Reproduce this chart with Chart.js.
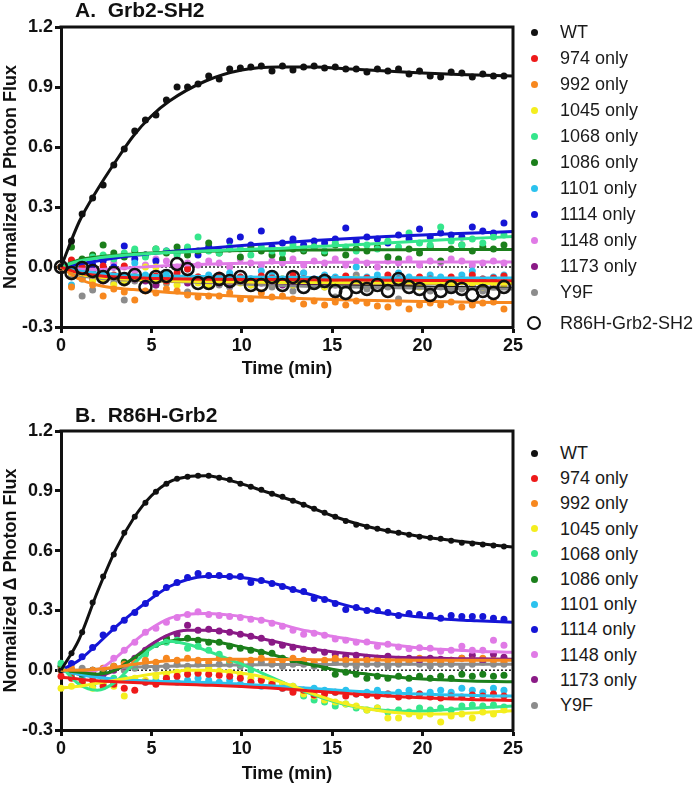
<!DOCTYPE html>
<html>
<head>
<meta charset="utf-8">
<script src="https://cdn.jsdelivr.net/npm/chart.js@4.4.0/dist/chart.umd.min.js"></script>
<style>
  body { margin: 0; background: #fff; font-family: "Liberation Sans", Arial, Helvetica, sans-serif; }
  #page { position: relative; width: 693px; height: 785px; overflow: hidden; }
  canvas { position: absolute; left: 0; }
  .ptitle { position: absolute; left: 75px; font-size: 21px; font-weight: bold; line-height: 20px; white-space: pre; color: #111; }
  .item { position: absolute; left: 560px; font-size: 18px; line-height: 20px; white-space: nowrap; color: #1a1a1a; }
  .dot { position: absolute; border-radius: 50%; box-sizing: border-box; }
</style>
</head>
<body>
<div id="page">
  <canvas id="chartA" width="530" height="380" style="top:0px"></canvas>
  <canvas id="chartB" width="530" height="385" style="top:400px"></canvas>
  <div class="ptitle" style="top:0px">A.  Grb2-SH2</div>
  <div class="ptitle" style="top:405px">B.  R86H-Grb2</div>
  <div id="legendA"></div>
  <div id="legendB"></div>
</div>
<script>
// sampling times (min), one reading about every 35 s
var times = [0, 0.58, 1.17, 1.75, 2.33, 2.92, 3.5, 4.08, 4.67, 5.25,
  5.83, 6.42, 7, 7.58, 8.17, 8.75, 9.33, 9.92, 10.5, 11.08,
  11.67, 12.25, 12.83, 13.42, 14, 14.58, 15.17, 15.75, 16.33, 16.92,
  17.5, 18.08, 18.67, 19.25, 19.83, 20.42, 21, 21.58, 22.17, 22.75,
  23.33, 23.92, 24.5];

var series = ['WT', '974 only', '992 only', '1045 only', '1068 only', '1086 only',
  '1101 only', '1114 only', '1148 only', '1173 only', 'Y9F'];
var colors = ['#111111', '#ee1a1a', '#f7881f', '#f4ee1e', '#35e68c', '#1b7f1b',
  '#2bc2ee', '#1515d6', '#e07ae6', '#8a1a86', '#8c8c8c'];

// ---- panel A: Grb2-SH2 ----
var aWT = [0, 0.13, 0.265, 0.345, 0.41, 0.51, 0.59, 0.68, 0.735, 0.76,
  0.835, 0.90, 0.90, 0.915, 0.955, 0.94, 0.99, 0.995, 1.0, 1.005,
  0.98, 1.005, 0.985, 1.0, 1.005, 0.995, 1.0, 0.99, 0.99, 0.975,
  0.99, 0.98, 0.99, 0.965, 0.98, 0.955, 0.95, 0.975, 0.97, 0.95,
  0.965, 0.955, 0.955];
var a974 = [0, 0.035, 0.0, -0.02, 0.005, -0.04, 0.005, -0.05, -0.06, -0.045,
  -0.07, -0.03, -0.01, -0.05, -0.06, -0.04, -0.07, -0.05, -0.065, -0.045,
  -0.055, -0.07, -0.04, -0.06, -0.075, -0.05, -0.06, -0.045, -0.07, -0.055,
  -0.065, -0.04, -0.06, -0.075, -0.05, -0.06, -0.07, -0.05, -0.065, -0.04,
  -0.06, -0.055, -0.045];
var a992 = [0, -0.10, -0.06, -0.09, -0.145, -0.11, -0.125, -0.165, -0.12, -0.13,
  -0.11, -0.12, -0.14, -0.15, -0.145, -0.145, -0.13, -0.16, -0.16, -0.13,
  -0.15, -0.145, -0.16, -0.185, -0.17, -0.19, -0.175, -0.19, -0.17, -0.18,
  -0.195, -0.2, -0.18, -0.21, -0.19, -0.18, -0.19, -0.175, -0.2, -0.19,
  -0.18, -0.175, -0.21];
var a1045 = [0, -0.03, -0.05, -0.07, -0.06, -0.09, -0.08, -0.05, 0.0, 0.0,
  -0.07, -0.09, -0.06, -0.08, -0.09, -0.07, -0.06, -0.08, -0.09, -0.07,
  -0.08, -0.06, -0.09, -0.07, -0.08, -0.1, -0.07, -0.08, -0.06, -0.09,
  -0.08, -0.07, -0.09, -0.08, -0.1, -0.07, -0.08, -0.09, -0.07, -0.08,
  -0.1, -0.08, -0.09];
var a1068 = [0, 0.03, 0.0, 0.05, 0.06, 0.04, 0.07, 0.09, 0.05, 0.09,
  0.08, 0.06, 0.1, 0.15, 0.08, 0.07, 0.1, 0.09, 0.06, 0.1,
  0.08, 0.07, 0.11, 0.09, 0.1, 0.08, 0.12, 0.1, 0.08, 0.11,
  0.09, 0.13, 0.1, 0.17, 0.12, 0.11, 0.2, 0.13, 0.11, 0.14,
  0.12, 0.15, 0.16];
var a1086 = [0, 0.1, 0.04, 0.06, 0.11, 0.07, 0.05, 0.08, 0.06, 0.09,
  0.07, 0.1, 0.06, 0.08, 0.12, 0.07, 0.09, 0.05, 0.1, 0.08,
  0.06, 0.04, 0.09, 0.08, 0.1, 0.07, 0.11, 0.06, 0.09, 0.08,
  0.1, 0.05, 0.04, 0.09, 0.07, 0.1, 0.03, 0.09, 0.11, 0.08,
  0.1, 0.09, 0.11];
var a1101 = [0, -0.09, -0.06, 0.04, -0.02, -0.05, -0.07, 0.02, -0.04, -0.06,
  -0.03, -0.05, -0.01, -0.06, -0.04, -0.07, -0.03, -0.05, -0.06, -0.02,
  -0.04, -0.06, -0.05, -0.03, -0.06, -0.04, -0.05, -0.07, 0.0, -0.05,
  -0.04, -0.06, -0.03, -0.05, -0.06, -0.04, -0.05, -0.07, -0.04, -0.02,
  -0.06, -0.05, -0.04];
var a1114 = [0, 0.02, -0.03, 0.01, 0.03, 0.0, 0.105, 0.04, 0.06, 0.03,
  0.08, 0.07, 0.09, 0.06, 0.1, 0.08, 0.13, 0.15, 0.11, 0.18,
  0.1, 0.12, 0.14, 0.11, 0.13, 0.12, 0.14, 0.195, 0.13, 0.15,
  0.14, 0.12, 0.16, 0.14, 0.19, 0.15, 0.17, 0.16, 0.15, 0.2,
  0.18, 0.17, 0.22];
var a1148 = [0, -0.02, -0.01, 0.01, -0.03, 0.02, 0.0, -0.02, 0.01, 0.04,
  0.03, 0.0, 0.02, 0.01, 0.03, 0.02, 0.0, 0.04, 0.02, 0.01,
  0.03, 0.02, 0.04, 0.01, 0.03, 0.02, 0.04, 0.01, 0.03, 0.02,
  0.0, 0.03, 0.02, 0.04, 0.01, 0.03, 0.02, 0.04, 0.03, 0.01,
  0.02, 0.03, 0.02];
var a1173 = [0, -0.03, -0.05, -0.06, -0.07, -0.05, -0.08, -0.06, -0.07, -0.09,
  -0.06, -0.07, -0.08, -0.06, -0.07, -0.08, -0.09, -0.07, -0.06, -0.08,
  -0.07, -0.09, -0.08, -0.07, -0.06, -0.08, -0.09, -0.07, -0.08, -0.06,
  -0.09, -0.08, -0.07, -0.09, -0.08, -0.07, -0.08, -0.09, -0.07, -0.08,
  -0.09, -0.08, -0.07];
var aY9F = [0, -0.05, -0.145, -0.115, -0.06, -0.08, -0.165, -0.07, -0.06, -0.09,
  -0.08, -0.07, -0.125, -0.05, -0.08, -0.09, -0.1, -0.06, -0.09, -0.07,
  -0.1, -0.06, -0.12, -0.03, -0.09, -0.1, -0.15, -0.08, -0.04, -0.11,
  -0.09, -0.1, -0.16, -0.07, -0.09, -0.12, -0.1, -0.11, -0.11, -0.09,
  -0.12, -0.1, -0.08];
var aR86H = [0, -0.03, -0.005, -0.02, -0.05, -0.03, -0.06, -0.04, -0.1, -0.05,
  -0.045, 0.015, -0.01, -0.08, -0.08, -0.06, -0.07, -0.05, -0.09, -0.09,
  -0.05, -0.09, -0.05, -0.1, -0.08, -0.07, -0.12, -0.13, -0.1, -0.11,
  -0.09, -0.12, -0.06, -0.1, -0.11, -0.14, -0.12, -0.1, -0.11, -0.14,
  -0.12, -0.13, -0.1];

// fitted curves, panel A
var fitTimesA = [0, 1, 2, 3, 4, 5, 6, 8, 10, 12, 14, 16, 18, 20, 22, 25];
var faWT = [0, 0.225, 0.385, 0.525, 0.655, 0.755, 0.83, 0.93, 0.985, 1.0, 1.0, 0.99, 0.98, 0.97, 0.962, 0.955];
var fa974 = [0, -0.03, -0.042, -0.05, -0.054, -0.057, -0.059, -0.061, -0.062, -0.063, -0.064, -0.065, -0.066, -0.067, -0.068, -0.069];
var fa992 = [0, -0.06, -0.09, -0.105, -0.113, -0.12, -0.127, -0.138, -0.147, -0.154, -0.16, -0.165, -0.169, -0.172, -0.175, -0.178];
var fa1045 = [0, -0.035, -0.05, -0.058, -0.063, -0.067, -0.07, -0.073, -0.075, -0.077, -0.078, -0.079, -0.08, -0.081, -0.082, -0.083];
var fa1068 = [0, 0.03, 0.045, 0.055, 0.062, 0.068, 0.073, 0.08, 0.087, 0.093, 0.102, 0.11, 0.12, 0.13, 0.14, 0.152];
var fa1086 = [0, 0.035, 0.05, 0.058, 0.065, 0.07, 0.074, 0.079, 0.082, 0.084, 0.085, 0.086, 0.086, 0.087, 0.087, 0.087];
var fa1101 = [0, -0.02, -0.03, -0.036, -0.04, -0.043, -0.045, -0.048, -0.05, -0.051, -0.052, -0.053, -0.054, -0.054, -0.055, -0.055];
var fa1114 = [0, 0.015, 0.03, 0.045, 0.057, 0.067, 0.077, 0.093, 0.107, 0.12, 0.132, 0.143, 0.152, 0.16, 0.167, 0.177];
var fa1148 = [0, -0.01, -0.012, -0.008, -0.003, 0.002, 0.007, 0.014, 0.019, 0.022, 0.023, 0.024, 0.024, 0.025, 0.025, 0.025];
var fa1173 = [0, -0.035, -0.05, -0.058, -0.063, -0.067, -0.07, -0.074, -0.077, -0.079, -0.08, -0.081, -0.082, -0.083, -0.083, -0.084];
var faY9F = [0, -0.04, -0.055, -0.062, -0.066, -0.069, -0.072, -0.078, -0.085, -0.092, -0.097, -0.1, -0.103, -0.106, -0.108, -0.11];
var faR86H = [0, -0.03, -0.045, -0.053, -0.058, -0.062, -0.065, -0.071, -0.077, -0.083, -0.088, -0.093, -0.097, -0.1, -0.103, -0.106];

// ---- panel B: R86H-Grb2 ----
var bWT = [0, 0.085, 0.19, 0.34, 0.47, 0.58, 0.69, 0.77, 0.84, 0.895,
  0.935, 0.96, 0.97, 0.975, 0.975, 0.965, 0.955, 0.935, 0.92, 0.905,
  0.885, 0.87, 0.85, 0.83, 0.81, 0.79, 0.77, 0.748, 0.73, 0.72,
  0.71, 0.70, 0.69, 0.68, 0.67, 0.665, 0.66, 0.65, 0.64, 0.635,
  0.63, 0.625, 0.62];
var b974 = [-0.03, -0.04, -0.06, -0.05, -0.08, -0.07, -0.09, -0.1, -0.06, -0.07,
  -0.04, -0.03, -0.02, -0.015, -0.02, -0.025, -0.03, -0.04, -0.06, -0.05,
  -0.07, -0.09, -0.11, -0.1, -0.125, -0.12, -0.11, -0.13, -0.12, -0.125,
  -0.13, -0.12, -0.135, -0.13, -0.12, -0.135, -0.14, -0.13, -0.135, -0.125,
  -0.13, -0.12, -0.13];
var b992 = [0.0, 0.01, -0.01, 0.0, 0.01, 0.02, 0.03, 0.04, 0.05, 0.04,
  0.06, 0.05, 0.06, 0.05, 0.04, 0.06, 0.05, 0.04, 0.05, 0.06,
  0.04, 0.05, 0.06, 0.05, 0.04, 0.05, 0.06, 0.05, 0.04, 0.05,
  0.06, 0.05, 0.04, 0.05, 0.06, 0.05, 0.04, 0.05, 0.06, 0.05,
  0.06, 0.05, 0.04];
var b1045 = [-0.09, -0.08, -0.07, -0.09, -0.06, -0.08, -0.13, -0.04, -0.05, -0.03,
  -0.02, -0.01, 0.0, -0.01, 0.01, -0.005, -0.01, -0.02, -0.04, -0.05,
  -0.06, -0.07, -0.08, -0.12, -0.13, -0.15, -0.16, -0.17, -0.18, -0.2,
  -0.19, -0.24, -0.24, -0.22, -0.23, -0.22, -0.26, -0.23, -0.22, -0.24,
  -0.21, -0.22, -0.2];
var b1068 = [0.035, -0.03, -0.06, -0.08, -0.07, -0.04, -0.04, 0.02, 0.08, 0.13,
  0.14, 0.15, 0.11, 0.12, 0.1, 0.08, 0.04, 0.03, 0.0, -0.04,
  -0.06, -0.08, -0.1, -0.13, -0.15, -0.16, -0.18, -0.17, -0.19, -0.2,
  -0.19, -0.21, -0.2, -0.21, -0.19, -0.2, -0.19, -0.2, -0.18, -0.175,
  -0.18, -0.175, -0.185];
var b1086 = [0.02, 0.0, -0.02, 0.0, -0.01, 0.02, 0.04, 0.05, 0.09, 0.13,
  0.16, 0.15, 0.16, 0.15, 0.14, 0.14, 0.12, 0.11, 0.1, 0.09,
  0.085, 0.06, 0.05, 0.04, 0.03, 0.015, -0.02, -0.01, -0.02, -0.04,
  -0.03, -0.04, -0.03, -0.04, -0.03, -0.04, -0.03, -0.04, -0.02, -0.03,
  -0.02, -0.03, -0.025];
var b1101 = [0.0, -0.02, -0.04, -0.03, -0.05, -0.06, -0.04, -0.05, -0.06, -0.05,
  -0.04, -0.06, -0.05, -0.04, -0.05, -0.06, -0.05, -0.07, -0.06, -0.08,
  -0.07, -0.09, -0.08, -0.1, -0.09, -0.1, -0.11, -0.1, -0.12, -0.11,
  -0.1, -0.12, -0.11, -0.1, -0.12, -0.11, -0.1, -0.11, -0.09, -0.1,
  -0.11, -0.09, -0.1];
var b1114 = [0.0, 0.034, 0.067, 0.114, 0.176, 0.21, 0.25, 0.29, 0.335, 0.385,
  0.415, 0.44, 0.465, 0.485, 0.475, 0.475, 0.47, 0.47, 0.44, 0.45,
  0.435, 0.42, 0.405, 0.395, 0.36, 0.355, 0.335, 0.305, 0.315, 0.30,
  0.30, 0.29, 0.275, 0.285, 0.28, 0.275, 0.26, 0.275, 0.27, 0.27,
  0.27, 0.26, 0.255];
var b1148 = [0.02, 0.0, -0.01, 0.0, 0.01, 0.06, 0.1, 0.14, 0.19, 0.21,
  0.24, 0.265, 0.28, 0.293, 0.28, 0.275, 0.27, 0.265, 0.255, 0.25,
  0.235, 0.22, 0.2, 0.18, 0.185, 0.175, 0.157, 0.15, 0.14, 0.142,
  0.12, 0.13, 0.116, 0.107, 0.112, 0.11, 0.095, 0.1, 0.12, 0.1,
  0.1, 0.15, 0.125];
var b1173 = [0.0, -0.01, -0.02, -0.01, -0.02, 0.0, 0.02, 0.06, 0.1, 0.13,
  0.16, 0.18, 0.226, 0.2, 0.205, 0.197, 0.19, 0.18, 0.17, 0.16,
  0.14, 0.125, 0.115, 0.105, 0.1, 0.09, 0.08, 0.07, 0.075, 0.065,
  0.06, 0.07, 0.055, 0.06, 0.05, 0.06, 0.055, 0.05, 0.06, 0.075,
  0.05, 0.08, 0.065];
var bY9F = [0.0, -0.01, 0.01, 0.0, -0.01, 0.01, 0.0, 0.01, 0.02, 0.01,
  0.02, 0.03, 0.02, 0.03, 0.02, 0.03, 0.03, 0.02, 0.03, 0.04,
  0.03, 0.02, 0.03, 0.03, 0.02, 0.03, 0.04, 0.03, 0.02, 0.03,
  0.03, 0.02, 0.03, 0.04, 0.03, 0.02, 0.03, 0.03, 0.02, 0.03,
  0.04, 0.03, 0.03];

// fitted curves, panel B (one value per minute, 0..25)
var fitTimesB = [0, 1, 2, 3, 4, 5, 6, 7, 8, 9, 10, 11, 12, 13, 14, 15, 16, 17, 18, 19, 20, 21, 22, 23, 24, 25];
var fbWT = [0, 0.155, 0.39, 0.6, 0.76, 0.875, 0.945, 0.97, 0.975, 0.96, 0.935, 0.905, 0.875, 0.845, 0.81, 0.775, 0.745, 0.72, 0.70, 0.685, 0.67, 0.658, 0.647, 0.637, 0.627, 0.618];
var fb974 = [-0.035, -0.045, -0.053, -0.058, -0.062, -0.066, -0.069, -0.072, -0.075, -0.078, -0.082, -0.087, -0.092, -0.098, -0.105, -0.112, -0.118, -0.124, -0.129, -0.134, -0.138, -0.142, -0.145, -0.148, -0.15, -0.152];
var fb992 = [0, 0.0, 0.005, 0.015, 0.03, 0.04, 0.048, 0.052, 0.054, 0.055, 0.055, 0.055, 0.054, 0.054, 0.053, 0.053, 0.052, 0.052, 0.051, 0.051, 0.05, 0.05, 0.05, 0.05, 0.05, 0.05];
var fb1045 = [-0.09, -0.08, -0.065, -0.05, -0.035, -0.02, -0.01, 0.0, 0.0, -0.005, -0.015, -0.03, -0.055, -0.085, -0.12, -0.15, -0.175, -0.195, -0.208, -0.216, -0.22, -0.22, -0.217, -0.213, -0.208, -0.203];
var fb1068 = [0.02, -0.07, -0.1, -0.06, 0.03, 0.11, 0.145, 0.13, 0.1, 0.065, 0.03, -0.01, -0.05, -0.09, -0.125, -0.155, -0.178, -0.193, -0.202, -0.206, -0.205, -0.2, -0.195, -0.19, -0.185, -0.18];
var fb1086 = [0, -0.01, -0.02, 0.0, 0.06, 0.115, 0.145, 0.155, 0.15, 0.135, 0.115, 0.095, 0.07, 0.045, 0.025, 0.005, -0.01, -0.02, -0.03, -0.038, -0.044, -0.048, -0.052, -0.055, -0.057, -0.058];
var fb1101 = [0, -0.02, -0.035, -0.045, -0.05, -0.055, -0.057, -0.06, -0.062, -0.065, -0.07, -0.075, -0.08, -0.086, -0.092, -0.098, -0.104, -0.109, -0.113, -0.117, -0.12, -0.123, -0.125, -0.127, -0.129, -0.13];
var fb1114 = [0, 0.05, 0.13, 0.215, 0.29, 0.36, 0.42, 0.455, 0.47, 0.47, 0.465, 0.45, 0.43, 0.4, 0.375, 0.345, 0.32, 0.3, 0.285, 0.275, 0.265, 0.258, 0.252, 0.248, 0.244, 0.24];
var fb1148 = [0, -0.01, 0.0, 0.06, 0.14, 0.21, 0.26, 0.28, 0.285, 0.28, 0.27, 0.255, 0.235, 0.21, 0.19, 0.17, 0.155, 0.14, 0.13, 0.12, 0.11, 0.105, 0.1, 0.095, 0.092, 0.09];
var fb1173 = [0, -0.02, -0.03, 0.0, 0.06, 0.13, 0.18, 0.2, 0.2, 0.195, 0.18, 0.16, 0.14, 0.12, 0.105, 0.092, 0.082, 0.074, 0.068, 0.064, 0.062, 0.06, 0.058, 0.057, 0.056, 0.055];
var fbY9F = [0, 0.0, 0.005, 0.01, 0.015, 0.018, 0.02, 0.022, 0.024, 0.025, 0.026, 0.027, 0.028, 0.028, 0.029, 0.029, 0.03, 0.03, 0.03, 0.03, 0.03, 0.03, 0.03, 0.03, 0.03, 0.03];

var yTicks = [-0.3, 0, 0.3, 0.6, 0.9, 1.2];
var xTicks = [0, 5, 10, 15, 20, 25];

function xy(ts, vals) {
  return ts.map(function (t, i) { return { x: t, y: vals[i] }; });
}

function fitLine(ts, vals, color) {
  return {
    type: 'line', data: xy(ts, vals), borderColor: color, borderWidth: 3,
    pointRadius: 0, fill: false, cubicInterpolationMode: 'monotone', order: 1, clip: false
  };
}

function dots(vals, color, r) {
  return {
    type: 'scatter', data: xy(times, vals), backgroundColor: color, borderWidth: 0,
    pointRadius: r, pointHoverRadius: r, order: 2, clip: false
  };
}

// dotted zero reference line
function zeroLine() {
  return {
    type: 'line', data: [{ x: 0, y: 0 }, { x: 25, y: 0 }], borderColor: '#222',
    borderWidth: 1.5, borderDash: [2, 2], pointRadius: 0, order: 3
  };
}

// top and right edges of the plot box
var frame = {
  id: 'frame',
  afterDatasetsDraw: function (chart) {
    var a = chart.chartArea, ctx = chart.ctx;
    ctx.save();
    ctx.strokeStyle = '#111';
    ctx.lineWidth = 3;
    ctx.beginPath();
    ctx.moveTo(a.left - 1.5, a.top);
    ctx.lineTo(a.right, a.top);
    ctx.lineTo(a.right, a.bottom + 1.5);
    ctx.stroke();
    ctx.restore();
  }
};

var boldFont = { family: '"Liberation Sans", Arial, sans-serif', size: 18, weight: 'bold' };

function makeOptions(padTop, xHeight) {
  return {
    responsive: false,
    animation: false,
    layout: { padding: { top: padTop, right: 17, left: 0, bottom: 0 } },
    plugins: { legend: { display: false }, tooltip: { enabled: false } },
    scales: {
      x: {
        type: 'linear', min: 0, max: 25,
        afterBuildTicks: function (s) { s.ticks = xTicks.map(function (v) { return { value: v }; }); },
        afterFit: function (s) { s.height = xHeight; },
        ticks: { color: '#111', font: boldFont, padding: 2, maxRotation: 0 },
        grid: { drawOnChartArea: false, drawTicks: true, tickLength: 6, tickWidth: 3, tickColor: '#111' },
        border: { display: true, width: 3, color: '#111' },
        title: { display: true, text: 'Time (min)', color: '#111', font: boldFont, padding: { top: 0, bottom: 0 } }
      },
      y: {
        min: -0.3, max: 1.2,
        afterBuildTicks: function (s) { s.ticks = yTicks.map(function (v) { return { value: v }; }); },
        afterFit: function (s) { s.width = 61; },
        ticks: {
          color: '#111', font: boldFont, padding: 2,
          callback: function (v) { return Number(v).toFixed(1); }
        },
        grid: { drawOnChartArea: false, drawTicks: true, tickLength: 6, tickWidth: 3, tickColor: '#111' },
        border: { display: true, width: 3, color: '#111' },
        title: { display: true, text: 'Normalized \u0394 Photon Flux', color: '#111', font: boldFont, padding: { top: 0, bottom: 0 } }
      }
    }
  };
}

function buildSets(points, fits, fitTimes, wtRadius) {
  var sets = [];
  for (var i = 0; i < series.length; i++) {
    sets.push(fitLine(fitTimes, fits[i], colors[i]));
    sets.push(dots(points[i], colors[i], i === 0 ? wtRadius : 3.5));
  }
  sets.push(zeroLine());
  return sets;
}

var setsA = buildSets(
  [aWT, a974, a992, a1045, a1068, a1086, a1101, a1114, a1148, a1173, aY9F],
  [faWT, fa974, fa992, fa1045, fa1068, fa1086, fa1101, fa1114, fa1148, fa1173, faY9F],
  fitTimesA, 3.5);
setsA.push(fitLine(fitTimesA, faR86H, '#111'));
setsA.push({
  type: 'scatter', data: xy(times, aR86H), backgroundColor: 'rgba(0,0,0,0)',
  borderColor: '#111', borderWidth: 2.5, pointRadius: 6, order: 0, clip: false
});

var setsB = buildSets(
  [bWT, b974, b992, b1045, b1068, b1086, b1101, b1114, b1148, b1173, bY9F],
  [fbWT, fb974, fb992, fb1045, fb1068, fb1086, fb1101, fb1114, fb1148, fb1173, fbY9F],
  fitTimesB, 3);

new Chart(document.getElementById('chartA'), {
  type: 'scatter', data: { datasets: setsA }, options: makeOptions(27, 53), plugins: [frame]
});
new Chart(document.getElementById('chartB'), {
  type: 'scatter', data: { datasets: setsB }, options: makeOptions(31, 55), plugins: [frame]
});

// legends (html, built from the series names)
function legend(el, first, step, extra) {
  var html = '';
  series.forEach(function (name, i) {
    var cy = first + i * step;
    html += '<div class="dot" style="left:' + (534 - 3.5) + 'px;top:' + (cy - 3.5) + 'px;width:7px;height:7px;background:' + colors[i] + '"></div>';
    html += '<div class="item" style="top:' + (cy - 10) + 'px">' + name + '</div>';
  });
  if (extra) {
    var cy = first + (series.length - 1) * step + 31;
    html += '<div class="dot" style="left:' + (534 - 7) + 'px;top:' + (cy - 7) + 'px;width:14px;height:14px;border:2.5px solid #111"></div>';
    html += '<div class="item" style="top:' + (cy - 10) + 'px">' + extra + '</div>';
  }
  document.getElementById(el).innerHTML = html;
}
legend('legendA', 32, 26, 'R86H-Grb2-SH2');
legend('legendB', 453, 25.2, null);
</script>
</body>
</html>
